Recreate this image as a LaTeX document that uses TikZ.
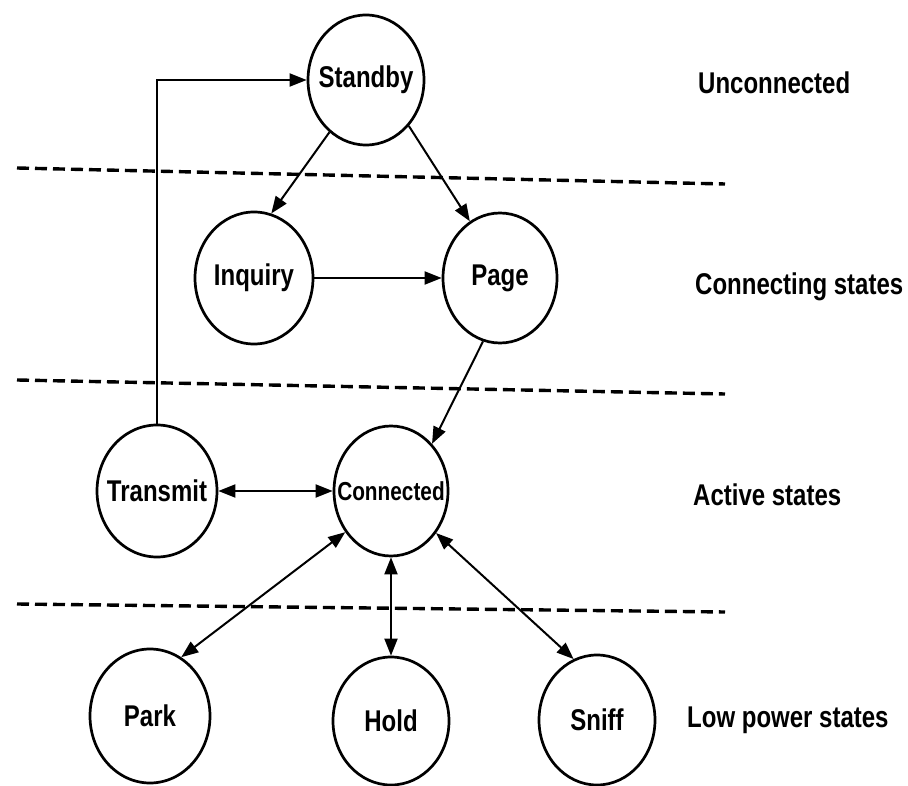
\documentclass[tikz,border=0pt]{standalone}
\usepackage{fontspec}
\newfontfamily\labfont[FakeStretch=0.8]{Liberation Sans}
\usetikzlibrary{shapes.geometric,arrows.meta}
\newcommand\stxt[1]{\makebox[0pt]{#1}}
\begin{document}
\begin{tikzpicture}[x=1pt,y=-1pt,
  state/.style={draw, ellipse, line width=2.7pt, inner sep=0pt,
    minimum width=116pt, minimum height=130pt,
    font=\labfont\bfseries\fontsize{30}{36}\selectfont},
  small/.style={font=\labfont\bfseries\fontsize{26}{31}\selectfont},
  tip/.tip={Triangle[length=17pt,width=13pt]},
  conn/.style={line width=2pt, -tip},
  biconn/.style={line width=2pt, tip-tip},
  sep/.style={line width=3.4pt, dash pattern=on 12pt off 6pt},
  zone/.style={anchor=base west, inner sep=0pt,
    font=\labfont\bfseries\fontsize{30}{36}\selectfont}
]
\useasboundingbox[fill=white] (0,0) rectangle (908,786);

% separators
\draw[sep] (17,168) -- (725,184);
\draw[sep] (17,380) -- (725,394);
\draw[sep] (17,604) -- (725,612);

% states
\node[state] (standby) at (366,80) {\stxt{Standby}};
\node[state, minimum width=118pt, minimum height=132pt] (inquiry) at (254,278) {\stxt{Inquiry}};
\node[state, minimum width=114pt] (page) at (500,278) {\stxt{Page}};
\node[state, minimum width=120pt, minimum height=132pt] (transmit) at (157,491) {\stxt{Transmit}};
\node[state, small, minimum width=114pt] (connected) at (391,491) {\stxt{Connected}};
\node[state, minimum width=120pt, minimum height=134pt] (park) at (150,716) {\stxt{Park}};
\node[state, minimum height=128pt] (hold) at (391,721) {\stxt{Hold}};
\node[state] (sniff) at (597,720) {\stxt{Sniff}};

% zone labels
\node[zone] (lu) at (698,94) {Unconnected};
\node[zone] (lc) at (695,295) {Connecting states};
\node[zone] (la) at (693,505) {Active states};
\node[zone] (ll) at (687,727) {Low power states};

% connectors
\draw[conn] (transmit.north) |- (standby.west);
\draw[conn] (standby.235) -- (inquiry.75);
\draw[conn] (standby.313) -- (page.118);
\draw[conn] (inquiry.east) -- (page.west);
\draw[conn] (page.255) -- (connected.49);
\draw[biconn] (transmit.east) -- (connected.west);
\draw[biconn] (connected.222) -- (park.62);
\draw[biconn] (connected.south) -- (hold.north);
\draw[biconn] (connected.317) -- (sniff.111);
\end{tikzpicture}
\end{document}
